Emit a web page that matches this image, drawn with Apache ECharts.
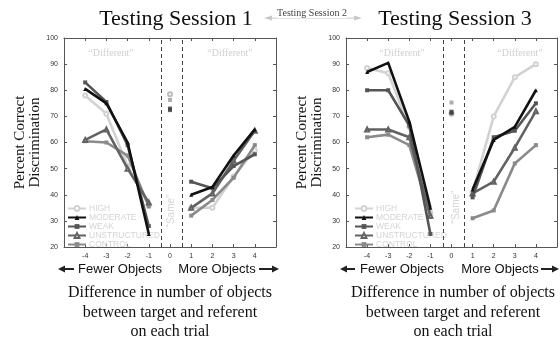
<!DOCTYPE html>
<html>
<head>
<meta charset="utf-8">
<script src="https://cdn.jsdelivr.net/npm/echarts@6/dist/echarts.min.js"></script>
<style>
  html, body { margin: 0; padding: 0; background: #fff; }
  #chart { width: 560px; height: 341px; }
</style>
</head>
<body>
<div id="chart"></div>
<script>
var dom = document.getElementById('chart');
var chart = echarts.init(dom, null, { renderer: 'canvas' });

// x positions of the trials (difference in number of objects)
var xValues = [-4, -3, -2, -1, 1, 2, 3, 4];
var xTicks = ['-4', '-3', '-2', '-1', '0', '1', '2', '3', '4'];
var groups = ['HIGH', 'MODERATE', 'WEAK', 'UNSTRUCTURED', 'CONTROL'];

// Testing Session 1
var s1High = [78, 71, 51, 36, 35, 35, 47, 57];
var s1Moderate = [80.5, 75, 60, 25, 40, 43, 55, 65];
var s1Weak = [83, 75.5, 59, 28, 45, 42.5, 51, 55.5];
var s1Unstructured = [61, 65, 50, 37, 35, 40.5, 53, 64.5];
var s1Control = [60.5, 60, 55, 35.5, 32, 38, 46.5, 59];
// "Same" trials (x = 0), in group order
var s1Same = [78.5, 72.8, 72.4, 73, 76.3];

// Testing Session 3
var s3High = [88.5, 86.5, 66, 33, 41, 70, 85, 90];
var s3Moderate = [87, 90.5, 68, 35, 42, 61, 66, 80];
var s3Weak = [80, 80, 66.5, 25, 39, 62, 64.5, 75];
var s3Unstructured = [65, 65, 62, 32, 40.5, 45, 58, 72];
var s3Control = [62, 63, 59, 31.5, 31, 34, 52, 59];
var s3Same = [71, 71.2, 71.8, 71.5, 75.3];

var colors = ['#d2d2d2', '#111111', '#555555', '#626262', '#8a8a8a'];
var symbols = ['emptyCircle', 'triangle', 'rect', 'emptyTriangle', 'rect'];

var session1 = [s1High, s1Moderate, s1Weak, s1Unstructured, s1Control];
var session3 = [s3High, s3Moderate, s3Weak, s3Unstructured, s3Control];

function lineData(vals) {
    var out = [];
    for (var i = 0; i < xValues.length; i++) {
        if (xValues[i] === 1) out.push([0, '-']); // gap across the "Same" zone
        out.push([xValues[i], vals[i]]);
    }
    return out;
}

var series = [];
// draw order: light ones behind, black on top
var drawOrder = [0, 4, 3, 2, 1];
[session1, session3].forEach(function (sess, p) {
    drawOrder.forEach(function (g, k) {
        var s = {
            name: groups[g],
            type: 'line',
            xAxisIndex: p * 2,
            yAxisIndex: p * 2,
            data: lineData(sess[g]),
            symbol: symbols[g],
            symbolSize: 4,
            lineStyle: { color: colors[g], width: 2.6 },
            itemStyle: { color: colors[g], borderWidth: 1 },
            z: 2 + k
        };
        if (k === 0) {
            s.markLine = {
                silent: true,
                symbol: 'none',
                label: { show: false },
                lineStyle: { color: '#444', type: [4, 3], width: 1 },
                data: [{ xAxis: -0.4 }, { xAxis: 0.6 }]
            };
        }
        series.push(s);
    });
    var same = p === 0 ? s1Same : s3Same;
    series.push({
        name: 'same' + p,
        type: 'scatter',
        xAxisIndex: p * 2,
        yAxisIndex: p * 2,
        symbolSize: 4,
        z: 10,
        data: groups.map(function (g, i) {
            return {
                value: [0, same[i]],
                symbol: i === 0 ? 'emptyCircle' : (i === 1 ? 'circle' : 'rect'),
                itemStyle: { color: i === 4 ? '#9a9a9a' : (i === 0 ? '#aaa' : '#444') }
            };
        })
    });
});

function xAxisPair(grid) {
    return [{
        type: 'value', gridIndex: grid, position: 'bottom',
        min: -5, max: 5, interval: 1,
        axisLine: { onZero: false, lineStyle: { color: '#555' } },
        axisTick: { inside: true, length: 3, lineStyle: { color: '#555' } },
        splitLine: { show: false },
        axisLabel: {
            fontSize: 7, color: '#333', margin: 6, fontFamily: 'Arial',
            formatter: function (v) { return xTicks.indexOf(String(v)) >= 0 ? String(v) : ''; }
        }
    }, {
        type: 'value', gridIndex: grid, position: 'top',
        min: -5, max: 5, interval: 1,
        axisLine: { show: true, onZero: false, lineStyle: { color: '#555' } },
        axisTick: { inside: true, length: 3, lineStyle: { color: '#555' } },
        axisLabel: { show: false },
        splitLine: { show: false }
    }];
}

function yAxisPair(grid, gap) {
    return [{
        type: 'value', gridIndex: grid, position: 'left',
        min: 20, max: 100, interval: 10,
        name: 'Percent Correct\nDiscrimination',
        nameLocation: 'middle', nameRotate: 90, nameGap: gap,
        nameTextStyle: { fontFamily: 'Liberation Serif', fontSize: 15, lineHeight: 15, color: '#111' },
        axisLine: { show: true, onZero: false, lineStyle: { color: '#555' } },
        axisTick: { show: true, inside: true, length: 3, lineStyle: { color: '#555' } },
        splitLine: { show: false },
        axisLabel: { fontSize: 7, color: '#333', margin: 6, fontFamily: 'Arial' }
    }, {
        type: 'value', gridIndex: grid, position: 'right',
        min: 20, max: 100, interval: 10,
        axisLine: { show: true, onZero: false, lineStyle: { color: '#555' } },
        axisTick: { show: true, inside: true, length: 3, lineStyle: { color: '#555' } },
        axisLabel: { show: false },
        splitLine: { show: false }
    }];
}

function legendAt(left) {
    return {
        orient: 'vertical', left: left, top: 199,
        data: groups, itemWidth: 18, itemHeight: 6, itemGap: 0,
        selectedMode: false,
        textStyle: { fontSize: 8.5, lineHeight: 9, color: '#d4d4d4', fontFamily: 'Arial', padding: [0, 0, 0, -2] }
    };
}

function txt(x, y, s, size, opts) {
    opts = opts || {};
    return {
        type: 'text', x: x, y: y, rotation: opts.rot || 0, z: 20,
        style: {
            text: s, fontSize: size, fill: opts.color || '#111',
            fontFamily: opts.font || 'Liberation Serif',
            textAlign: 'center', textVerticalAlign: 'middle',
            backgroundColor: opts.bg
        }
    };
}

function arrow(xFrom, xTo, y, color) {
    // arrow pointing toward xTo
    var d = xTo > xFrom ? 1 : -1;
    return [{
        type: 'line', z: 20,
        shape: { x1: xFrom, y1: y, x2: xTo - d * 6, y2: y },
        style: { stroke: color, lineWidth: 2 }
    }, {
        type: 'polygon', z: 20,
        shape: { points: [[xTo, y], [xTo - d * 7, y - 3.5], [xTo - d * 7, y + 3.5]] },
        style: { fill: color }
    }];
}

var graphic = [
    txt(176, 19, 'Testing Session 1', 22),
    txt(455, 19, 'Testing Session 3', 22),
    {
        type: 'line', z: 19,
        shape: { x1: 270, y1: 18, x2: 356, y2: 18 },
        style: { stroke: '#c8c8c8', lineWidth: 1 }
    },
    {
        type: 'polygon', z: 19,
        shape: { points: [[264, 18], [272, 15.5], [272, 20.5]] },
        style: { fill: '#c8c8c8' }
    },
    {
        type: 'polygon', z: 19,
        shape: { points: [[362, 18], [354, 15.5], [354, 20.5]] },
        style: { fill: '#c8c8c8' }
    },
    txt(312, 13, 'Testing Session 2', 10, { color: '#444', bg: '#fff' }),

    txt(111, 53, '\u201cDifferent\u201d', 10, { color: '#cfcfcf' }),
    txt(230, 53, '\u201cDifferent\u201d', 10, { color: '#cfcfcf' }),
    txt(402, 53, '\u201cDifferent\u201d', 10, { color: '#cfcfcf' }),
    txt(520, 53, '\u201cDifferent\u201d', 10, { color: '#cfcfcf' }),
    txt(171, 211, '\u201cSame\u201d', 10, { color: '#d4d4d4', font: 'Arial', rot: Math.PI / 2 }),
    txt(456, 207, '\u201cSame\u201d', 10, { color: '#d4d4d4', font: 'Arial', rot: Math.PI / 2 }),

    txt(120, 269, 'Fewer Objects', 13, { font: 'Arial' }),
    txt(217, 269, 'More Objects', 13, { font: 'Arial' }),
    txt(402, 269, 'Fewer Objects', 13, { font: 'Arial' }),
    txt(500, 269, 'More Objects', 13, { font: 'Arial' }),

    txt(170, 293, 'Difference in number of objects', 16),
    txt(170, 313, 'between target and referent', 16),
    txt(170, 332, 'on each trial', 16),
    txt(453, 293, 'Difference in number of objects', 16),
    txt(453, 313, 'between target and referent', 16),
    txt(453, 332, 'on each trial', 16)
]
    .concat(arrow(74, 58, 269, '#222'))
    .concat(arrow(259, 279, 269, '#222'))
    .concat(arrow(355, 340, 269, '#222'))
    .concat(arrow(541, 559, 269, '#222'));

var option = {
    backgroundColor: '#fff',
    animation: false,
    grid: [
        { left: 64, top: 38, width: 212, height: 209 },
        { left: 346, top: 38, width: 217, height: 209 }
    ],
    xAxis: xAxisPair(0).concat(xAxisPair(1)),
    yAxis: yAxisPair(0, 20).concat(yAxisPair(1, 18)),
    legend: [legendAt(62), legendAt(349)],
    series: series,
    graphic: graphic
};

chart.setOption(option);
window.addEventListener('resize', function () {
    chart.resize();
});
</script>
</body>
</html>
